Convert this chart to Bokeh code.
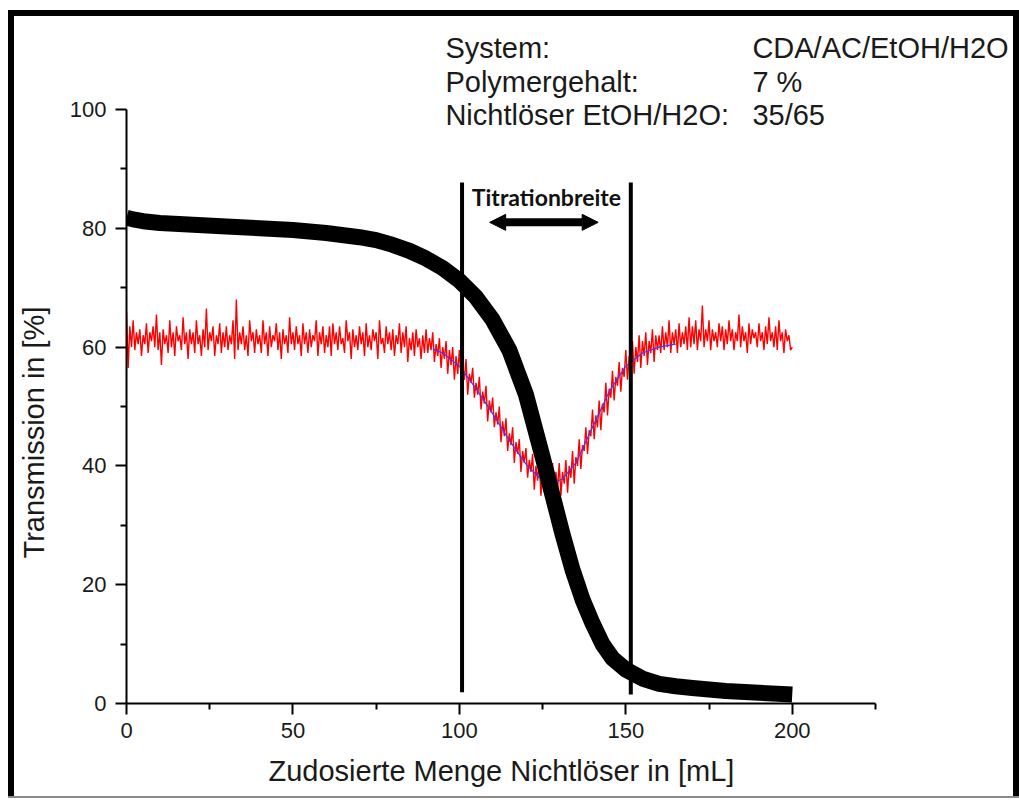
from bokeh.plotting import figure
from bokeh.models import Range1d, FixedTicker, Label, Arrow, NormalHead, Title
from bokeh.embed import file_html
from bokeh.resources import INLINE

# ---------------- data ----------------
menge_black = [0, 2, 5, 10, 20, 30, 40, 50, 60, 70, 75, 80, 85, 90, 95, 100, 105, 110,
               115, 120, 125, 128, 131, 134, 137, 140, 143, 146, 150, 155, 160, 165,
               170, 180, 190, 200]
trans_black = [81.8, 81.5, 81.2, 80.9, 80.6, 80.3, 80.0, 79.7, 79.2, 78.5, 78.0, 77.2,
               76.2, 74.9, 73.3, 71.2, 68.4, 64.6, 59.5, 52.0, 41.5, 35.0, 28.5, 22.5,
               17.5, 13.5, 10.0, 7.6, 5.7, 4.2, 3.3, 2.9, 2.6, 2.1, 1.8, 1.5]

# noisy red signal, sampled every 0.5 mL (0 ... 200 mL)
menge_red = [i / 2 for i in range(401)]
trans_red = [
    66.0, 56.5, 63.5, 60.0, 64.5, 59.5, 62.5, 60.5, 63.0, 58.5, 62.0, 60.5, 64.0, 59.0, 62.5, 61.0, 63.5, 60.0, 65.5, 59.5,
    62.5, 57.0, 63.0, 60.5, 62.0, 59.0, 64.5, 60.0, 62.5, 58.5, 63.5, 61.0, 62.0, 59.5, 65.0, 60.5, 62.5, 58.0, 63.0, 60.5,
    62.5, 59.0, 64.5, 60.5, 62.0, 58.5, 63.0, 60.0, 66.5, 59.5, 62.5, 61.0, 63.5, 58.5, 62.0, 60.5, 64.0, 59.0, 62.5, 60.0,
    63.5, 59.5, 62.0, 60.5, 64.5, 58.0, 68.0, 59.5, 62.5, 60.5, 63.5, 59.5, 62.0, 58.5, 64.5, 61.0, 62.5, 59.0, 63.0, 60.5,
    62.0, 59.0, 64.5, 60.5, 62.5, 58.5, 63.5, 60.0, 62.0, 61.0, 64.0, 59.5, 62.5, 58.0, 63.0, 60.5, 62.0, 59.0, 65.0, 60.5,
    62.5, 59.5, 63.5, 60.5, 62.0, 58.5, 64.0, 60.5, 62.5, 59.0, 63.0, 60.0, 62.0, 61.0, 64.5, 58.5, 62.5, 60.5, 63.5, 59.0,
    62.0, 60.0, 63.5, 58.5, 64.0, 60.5, 62.5, 59.5, 63.5, 60.5, 61.5, 59.0, 64.5, 61.0, 62.5, 58.0, 63.0, 60.0, 62.0, 59.5,
    63.5, 60.5, 62.5, 58.5, 64.0, 60.0, 62.0, 59.5, 63.0, 61.0, 62.5, 58.0, 64.5, 60.5, 61.5, 59.0, 63.5, 60.5, 62.5, 59.5,
    63.0, 58.5, 62.0, 60.5, 64.0, 59.0, 62.5, 60.0, 63.5, 57.5, 61.5, 59.5, 62.5, 58.5, 63.0, 60.0, 61.5, 58.0, 62.0, 59.0,
    63.0, 59.0, 61.5, 59.5, 62.5, 57.5, 60.5, 58.5, 61.5, 56.5, 60.0, 58.0, 61.0, 55.5, 59.5, 57.0, 60.0, 54.5, 58.5, 55.5,
    59.5, 55.0, 57.0, 54.5, 58.0, 52.0, 55.5, 54.0, 56.5, 51.5, 54.0, 52.0, 55.0, 49.5, 52.5, 50.5, 53.5, 47.5, 51.0, 49.0,
    51.5, 46.5, 49.0, 47.0, 50.0, 44.0, 47.5, 45.0, 48.0, 42.5, 45.5, 43.5, 46.5, 40.5, 44.0, 42.0, 44.5, 39.0, 42.5, 40.5,
    43.0, 38.0, 41.0, 39.0, 42.0, 36.0, 40.0, 37.5, 41.0, 35.0, 39.0, 36.5, 40.0, 33.5, 38.5, 35.0, 40.5, 33.0, 39.0, 36.0,
    40.5, 35.0, 39.0, 37.0, 41.0, 35.5, 40.0, 38.0, 42.5, 37.0, 41.5, 40.0, 44.5, 39.5, 43.5, 42.5, 46.5, 42.0, 46.0, 45.0,
    49.5, 44.5, 48.5, 46.5, 51.0, 46.0, 50.5, 49.0, 54.0, 48.5, 53.0, 51.5, 56.0, 51.0, 55.0, 53.5, 57.5, 52.5, 56.5, 55.0,
    59.5, 54.5, 58.5, 56.5, 61.0, 55.5, 60.0, 57.5, 62.0, 56.5, 61.0, 58.5, 62.5, 57.0, 61.0, 59.0, 63.0, 57.5, 62.0, 59.5,
    62.0, 59.0, 63.5, 59.5, 62.5, 60.0, 64.5, 59.0, 62.5, 60.5, 63.0, 59.0, 64.0, 60.0, 62.5, 60.5, 63.5, 59.5, 65.0, 60.0,
    63.5, 60.5, 64.5, 59.5, 63.0, 61.0, 67.0, 60.0, 63.0, 61.0, 64.5, 59.5, 63.0, 61.0, 62.5, 60.0, 64.0, 61.0, 63.5, 59.5,
    63.0, 60.5, 64.5, 61.0, 63.0, 59.5, 62.5, 61.0, 65.5, 60.0, 63.5, 61.0, 62.5, 59.0, 64.0, 60.5, 63.0, 61.5, 62.5, 60.0,
    64.0, 61.0, 62.5, 59.5, 63.5, 60.5, 65.0, 61.0, 62.5, 60.0, 63.5, 59.5, 64.5, 61.0, 62.5, 59.0, 63.0, 61.0, 62.0, 59.5,
    60.0,
]

fit_x = [92, 95, 100, 105, 110, 115, 120, 124, 127.5, 131, 135, 140, 145, 150, 155, 160, 165]
fit_y = [59.7, 59.0, 56.8, 53.0, 48.8, 44.3, 40.3, 38.0, 37.0, 37.8, 40.5, 46.5, 52.5,
         56.8, 59.0, 60.0, 60.5]

titration_x = [100.8, 151.5]
titration_y0 = [1.9, 1.5]
titration_top = [87.7, 87.7]
arrow_span = [109.1, 141.7]
arrow_level = 81.0

x_ticks = [0, 50, 100, 150, 200]
x_minor = [25, 75, 125, 175, 225]
y_ticks = [0, 20, 40, 60, 80, 100]
y_minor = [10, 30, 50, 70, 90]

info_keys = ["System:", "Polymergehalt:", "Nichtlöser EtOH/H2O:"]
info_vals = ["CDA/AC/EtOH/H2O", "7 %", "35/65"]

x_title = "Zudosierte Menge Nichtlöser in [mL]"
y_title = "Transmission in [%]"
note_text = "Titrationbreite"

# ---------------- layout (page px == canvas px) ----------------
W, H = 1019, 800
FR_LEFT, FR_BOTTOM, FR_TOP, FR_RIGHT = 123, 703, 16, 1013
X_END = (FR_RIGHT - FR_LEFT) * 50 / 167.0
Y_END = (FR_BOTTOM - FR_TOP) / 5.94
XS = (FR_RIGHT - FR_LEFT) / X_END
YS = (FR_BOTTOM - FR_TOP) / Y_END


def px2x(px):
    return (px - FR_LEFT) / XS


def px2y(py):
    return (FR_BOTTOM - py) / YS


FONT = "Liberation Sans"
TXT = "#1a1a1a"

frame_css = {
    "box-shadow": ("inset 8px 0 0 0 white, inset 0 10px 0 0 white, "
                   "inset 0 -2px 0 0 white, inset 0 -4px 0 0 #8a8a8a, "
                   "inset 14px 0 0 0 black, inset -6px 0 0 0 black, "
                   "inset 0 16px 0 0 black"),
}

p = figure(width=W, height=H, output_backend="svg", toolbar_location=None,
           x_range=Range1d(0, X_END), y_range=Range1d(0, Y_END),
           min_border_left=FR_LEFT, min_border_right=W - FR_RIGHT,
           min_border_top=FR_TOP, min_border_bottom=H - FR_BOTTOM,
           styles=frame_css)
p.outline_line_color = None
p.xgrid.visible = False
p.ygrid.visible = False
p.background_fill_color = None
p.border_fill_color = None

for ax, tk, mn in ((p.xaxis, x_ticks, x_minor), (p.yaxis, y_ticks, y_minor)):
    ax.ticker = FixedTicker(ticks=tk, minor_ticks=mn)
    ax.axis_line_width = 2
    ax.axis_line_color = "black"
    ax.major_tick_line_width = 2
    ax.minor_tick_line_width = 2
    ax.major_tick_out = 11
    ax.major_tick_in = 0
    ax.minor_tick_out = 6
    ax.minor_tick_in = 0
    ax.major_label_text_font = FONT
    ax.major_label_text_font_size = "22px"
    ax.major_label_text_color = TXT

p.xaxis.bounds = (0, 225)
p.yaxis.bounds = (0, 100)
p.xaxis.major_label_standoff = 8
p.yaxis.major_label_standoff = 9

# axis titles (placed along the axis as in the original)
p.add_layout(Title(text=x_title, align="left", offset=142, vertical_align="middle",
                   standoff=26, text_font=FONT, text_font_size="29px",
                   text_font_style="normal", text_color=TXT), "below")
p.add_layout(Title(text=y_title, align="left", offset=145, vertical_align="middle",
                   standoff=32, text_font=FONT, text_font_size="29px",
                   text_font_style="normal", text_color=TXT), "left")

# curves
p.line(menge_red, trans_red, line_width=1.4, color="#ff0000")
p.line(fit_x, fit_y, line_width=1.2, color="#3a3aff")
p.line(menge_black, trans_black, line_width=16, color="black",
       line_cap="butt", line_join="round")
p.segment(x0=titration_x, y0=titration_y0, x1=titration_x, y1=titration_top,
          line_width=4, color="black")

# annotations
p.add_layout(Label(x=(titration_x[0] + titration_x[1]) / 2, y=px2y(196), text=note_text,
                   text_font="Lato", text_font_style="bold", text_font_size="23px",
                   text_color="#111111", text_align="center", text_baseline="middle"))
p.add_layout(Arrow(start=NormalHead(size=16, fill_color="black", line_color="black"),
                   end=NormalHead(size=16, fill_color="black", line_color="black"),
                   x_start=arrow_span[0], y_start=arrow_level,
                   x_end=arrow_span[1], y_end=arrow_level,
                   line_width=8, line_color="black"))

centers = [47.5, 81, 114.5]
for k, v, c in zip(info_keys, info_vals, centers):
    p.add_layout(Label(x=px2x(443), y=px2y(c), text=k, text_font=FONT,
                       text_font_size="29px", text_color=TXT, text_baseline="middle"))
    p.add_layout(Label(x=px2x(751), y=px2y(c), text=v, text_font=FONT,
                       text_font_size="29px", text_color=TXT, text_baseline="middle"))

open("out.html", "w").write(file_html(p, INLINE))
